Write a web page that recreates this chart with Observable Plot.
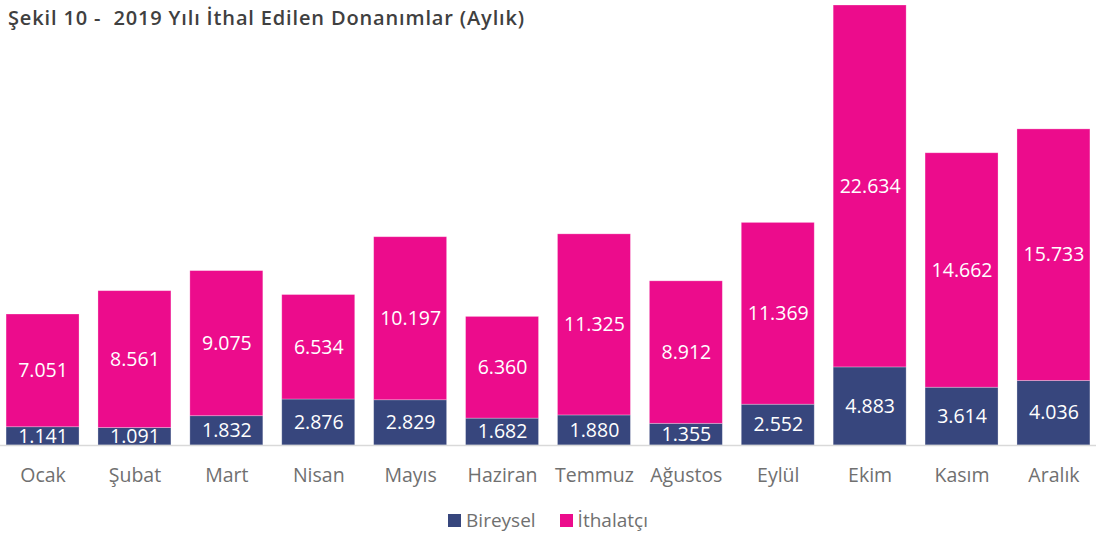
<!DOCTYPE html>
<html><head><meta charset="utf-8">
<script src="https://cdn.jsdelivr.net/npm/d3@7"></script>
<script src="https://cdn.jsdelivr.net/npm/@observablehq/plot@0.6"></script>
<style>
body{margin:0;background:#fff;font-family:"Open Sans",sans-serif;}
#wrap{position:relative;width:1096px;height:538px;}
#title{position:absolute;left:8px;top:4px;font-size:20px;font-weight:600;letter-spacing:0.85px;color:#404040;white-space:pre;}
#legend{position:absolute;left:0;width:1096px;top:507px;text-align:center;font-size:19px;color:#707070;}
#legend span.sw{display:inline-block;width:13px;height:13px;vertical-align:0px;margin-right:5px;}
#legend span.it{margin:0 12px;}
</style></head>
<body><div id="wrap"><div id="chart"></div>
<div id="title">Şekil 10 -  2019 Yılı İthal Edilen Donanımlar (Aylık)</div>
<div id="legend"></div></div>
<script>
const months = ["Ocak","Şubat","Mart","Nisan","Mayıs","Haziran","Temmuz","Ağustos","Eylül","Ekim","Kasım","Aralık"];
const bireysel = [1141,1091,1832,2876,2829,1682,1880,1355,2552,4883,3614,4036];
const ithalatci = [7051,8561,9075,6534,10197,6360,11325,8912,11369,22634,14662,15733];
const seriesNames = ["Bireysel","İthalatçı"];
const colors = ["#37467d","#ec0c8c"];

const data = [];
months.forEach((m,i)=>{
  data.push({month:m, series:seriesNames[0], value:bireysel[i]});
  data.push({month:m, series:seriesNames[1], value:ithalatci[i]});
});
const fmt = v => d3.format(",")(v).replace(/,/g,".");

const chart = Plot.plot({
  width:1096, height:538,
  marginTop:5, marginBottom:93, marginLeft:0, marginRight:0,
  style:{fontFamily:"'Open Sans',sans-serif"},
  x:{domain:months, paddingInner:0.206, paddingOuter:0.066, round:false, axis:null},
  y:{domain:[0, 27517], axis:null},
  color:{domain:seriesNames, range:colors},
  marks:[
    Plot.barY(data, Plot.stackY({x:"month", y:"value", fill:"series", order:seriesNames, stroke:"#ffffff", strokeOpacity:0.35, strokeWidth:0.8})),
    Plot.text(data, Plot.stackY({x:"month", y:"value", z:"series", order:seriesNames, text:d=>fmt(d.value), fill:"white", fontSize:19.5})),
    Plot.ruleY([0], {stroke:"#d9d9d9", strokeWidth:1.5}),
    Plot.text(months, {x:d=>d, y:0, text:d=>d, dy:30, fill:"#707070", fontSize:19.5})
  ]
});
document.getElementById("chart").appendChild(chart);
const lg = document.getElementById("legend");
seriesNames.forEach((s,i)=>{
  const it = document.createElement("span"); it.className="it";
  it.innerHTML = `<span class="sw" style="background:${colors[i]}"></span>${s}`;
  lg.appendChild(it);
});
</script></body></html>
